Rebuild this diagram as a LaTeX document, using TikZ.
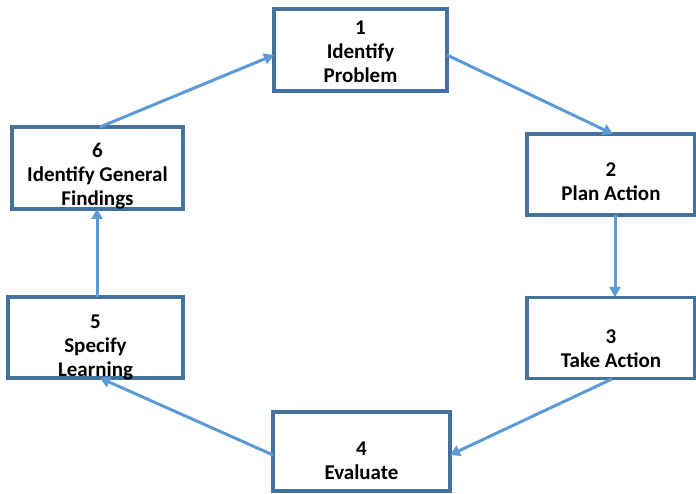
\documentclass[tikz,border=0pt]{standalone}
\usepackage{fontspec}
\setmainfont{Carlito}
\usetikzlibrary{arrows.meta}
\definecolor{boxline}{HTML}{41719C}
\definecolor{arrowline}{HTML}{5B9BD5}
\begin{document}
\begin{tikzpicture}[x=1pt,y=-1pt,
  stepbox/.style={draw=boxline, line width=3.5pt, fill=white, inner sep=0pt},
  steptext/.style={align=center, font=\fontsize{21}{24}\selectfont\bfseries, inner sep=0pt},
  flow/.style={draw=arrowline, line width=3pt, -{Triangle[length=10pt,width=11pt]}}]
\useasboundingbox (0,0) rectangle (696,494);
\node[stepbox, minimum width=173pt, minimum height=82pt] (b1) at (360.5,50) {};
\node[stepbox, minimum width=168pt, minimum height=81pt] (b2) at (611,174.5) {};
\node[stepbox, minimum width=168pt, minimum height=81pt] (b3) at (611,338) {};
\node[stepbox, minimum width=177pt, minimum height=79pt] (b4) at (361.5,451.5) {};
\node[stepbox, minimum width=175pt, minimum height=81pt] (b5) at (95.5,337.5) {};
\node[stepbox, minimum width=171pt, minimum height=82pt] (b6) at (97.5,168) {};
\node[steptext] (t1) at ([yshift=-2pt]b1.center) {1\\Identify\\Problem};
\node[steptext] (t2) at ([yshift=-7pt]b2.center) {2\\Plan Action};
\node[steptext] (t3) at ([yshift=-11pt]b3.center) {3\\Take Action};
\node[steptext] (t4) at ([yshift=-9pt]b4.center) {4\\Evaluate};
\node[steptext] (t5) at ([yshift=-10pt]b5.center) {5\\Specify\\Learning};
\node[steptext] (t6) at ([yshift=-8pt]b6.center) {6\\Identify General\\Findings};
\coordinate (a6s) at (100,127);
\coordinate (a1e) at (274,55);
\coordinate (a1s) at (447,55);
\coordinate (a2e) at (613,134);
\coordinate (a2s) at (615,215);
\coordinate (a3e) at (615,297);
\coordinate (a3s) at (612,379);
\coordinate (a4e) at (450,455);
\coordinate (a4s) at (273,455);
\coordinate (a5e) at (100,378);
\coordinate (a5s) at (97,297);
\coordinate (a6e) at (97,209);
\draw[flow] (a6s) -- (a1e);
\draw[flow] (a1s) -- (a2e);
\draw[flow] (a2s) -- (a3e);
\draw[flow] (a3s) -- (a4e);
\draw[flow] (a4s) -- (a5e);
\draw[flow] (a5s) -- (a6e);
\end{tikzpicture}
\end{document}
